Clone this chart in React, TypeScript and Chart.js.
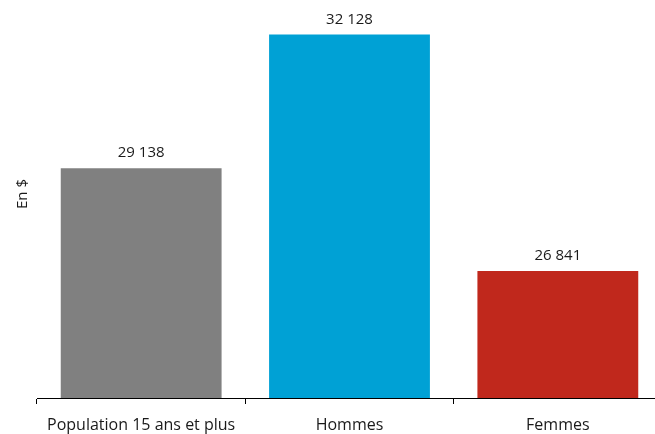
import React, { useEffect, useRef } from "react";
import { Chart, registerables } from "chart.js";

Chart.register(...registerables);

const categories = ["Population 15 ans et plus", "Hommes", "Femmes"];
const values = [29138, 32128, 26841];
const barColors = ["#808080", "#00A1D5", "#C0281C"];
const yTitle = "En $";
const yMin = 24000;
const yMax = 32900;

const FONT = "'Open Sans', 'Noto Sans', sans-serif";

function fmt(v: number): string {
  return String(v).replace(/\B(?=(\d{3})+(?!\d))/g, " ");
}

const valueLabels = {
  id: "valueLabels",
  afterDatasetsDraw(chart: any) {
    const ctx = chart.ctx;
    const meta = chart.getDatasetMeta(0);
    ctx.save();
    ctx.font = `15px ${FONT}`;
    ctx.fillStyle = "#1a1a1a";
    ctx.textAlign = "center";
    ctx.textBaseline = "alphabetic";
    meta.data.forEach((el: any, i: number) => {
      ctx.fillText(fmt(values[i]), el.x, el.y - 11);
    });
    // y axis title
    const area = chart.chartArea;
    ctx.translate(26.5, (area.top + area.bottom) / 2 - 5);
    ctx.rotate(-Math.PI / 2);
    ctx.fillText(yTitle, 0, 0);
    ctx.restore();
  },
};

export default function App() {
  const ref = useRef<HTMLCanvasElement | null>(null);
  useEffect(() => {
    if (!ref.current) return;
    const chart = new Chart(ref.current, {
      type: "bar",
      data: {
        labels: categories,
        datasets: [
          {
            data: values,
            backgroundColor: barColors,
            borderWidth: 0,
            barPercentage: 0.772,
            categoryPercentage: 1,
          },
        ],
      },
      options: {
        responsive: false,
        animation: false,
        layout: { padding: { top: 0, right: 0, bottom: 0, left: 0 } },
        plugins: {
          legend: { display: false },
          tooltip: { enabled: false },
        },
        scales: {
          x: {
            offset: true,
            grid: {
              display: true,
              offset: true,
              drawOnChartArea: false,
              drawTicks: true,
              tickLength: 6,
              color: "#000",
              lineWidth: 1,
            },
            border: { display: true, color: "#000", width: 1 },
            ticks: {
              color: "#1a1a1a",
              font: { family: FONT, size: 16 },
              padding: 12,
              maxRotation: 0,
              autoSkip: false,
            },
            afterFit(scale: any) {
              scale.height = 36;
            },
          },
          y: {
            min: yMin,
            max: yMax,
            grid: { display: false },
            border: { display: false },
            ticks: { display: false },
            title: { display: false },
            afterFit(scale: any) {
              scale.width = 37;
            },
          },
        },
      },
      plugins: [valueLabels],
    });
    return () => chart.destroy();
  }, []);
  return (
    <div
      style={{
        position: "fixed",
        top: 0,
        left: 0,
        width: 655,
        height: 434,
        overflow: "hidden",
        background: "#fff",
      }}
    >
      <canvas ref={ref} width={662} height={434} style={{ display: "block" }} />
    </div>
  );
}
